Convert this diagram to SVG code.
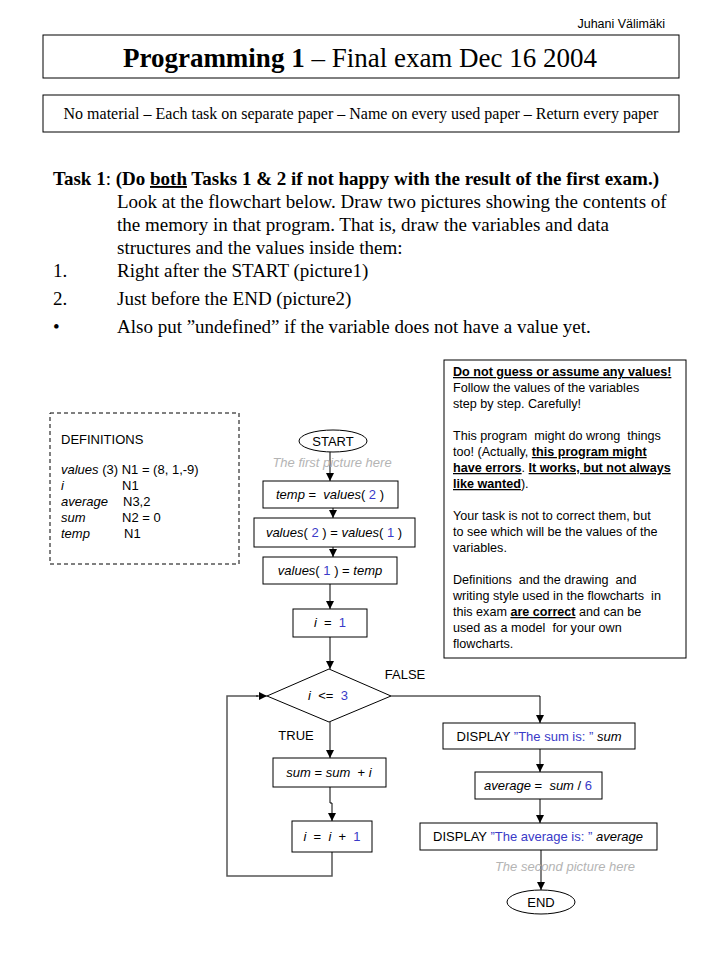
<svg xmlns="http://www.w3.org/2000/svg" width="720" height="960" viewBox="0 0 720 960">
<style>
text{white-space:pre}
.serif{font-family:"Liberation Serif","Times New Roman",serif;fill:#000}
.sans{font-family:"Liberation Sans",Arial,sans-serif;fill:#000}
.box{fill:#fff;stroke:#000;stroke-width:1}
.fc{font-family:"Liberation Sans",Arial,sans-serif;font-size:13px;fill:#000;text-anchor:middle}
.it{font-style:italic}
.num{fill:#3a3ac8}
.gray{font-family:"Liberation Sans",Arial,sans-serif;font-size:13px;font-style:italic;fill:#b4b4b4;text-anchor:middle}
.line{fill:none;stroke:#000;stroke-width:1}
.loop{fill:none;stroke:#555;stroke-width:1.5}
.bu{font-weight:bold;text-decoration:underline}
</style>
<defs>
<marker id="arr" markerWidth="8" markerHeight="8" refX="8" refY="4" orient="auto" markerUnits="userSpaceOnUse">
<path d="M0,0 L8,4 L0,8 z" fill="#000"/>
</marker>
</defs>
<rect width="720" height="960" fill="#fff"/>

<g id="header">
<text class="sans" x="665" y="28" font-size="12.5" text-anchor="end">Juhani Välimäki</text>
<rect class="box" x="43" y="35" width="636" height="43"/>
<text class="serif" x="360" y="67" font-size="27" text-anchor="middle"><tspan font-weight="bold">Programming 1</tspan> – Final exam Dec 16 2004</text>
<rect class="box" x="43" y="95" width="636" height="37"/>
<text class="serif" x="361" y="119" font-size="16" text-anchor="middle">No material – Each task on separate paper – Name on every used paper – Return every paper</text>
</g>

<g id="task" class="serif" font-size="19">
<text x="53" y="185"><tspan font-weight="bold">Task 1</tspan>: <tspan font-weight="bold">(Do <tspan text-decoration="underline">both</tspan> Tasks 1 &amp; 2 if not happy with the result of the first exam.)</tspan></text>
<text x="117" y="208">Look at the flowchart below. Draw two pictures showing the contents of</text>
<text x="117" y="231">the memory in that program. That is, draw the variables and data</text>
<text x="117" y="254">structures and the values inside them:</text>
<text x="53" y="277">1.</text><text x="117" y="277">Right after the START (picture1)</text>
<text x="53" y="305">2.</text><text x="117" y="305">Just before the END (picture2)</text>
<text x="53" y="333">•</text><text x="117" y="333">Also put ”undefined” if the variable does not have a value yet.</text>
</g>

<g id="definitions">
<rect x="50" y="413" width="189" height="151" fill="#fff" stroke="#000" stroke-width="1" stroke-dasharray="4,3"/>
<g class="sans" font-size="13">
<text x="61" y="444">DEFINITIONS</text>
<text x="61" y="474"><tspan class="it">values</tspan> (3) N1 = (8, 1,-9)</text>
<text x="61" y="490" class="it">i</text><text x="122" y="490">N1</text>
<text x="61" y="506" class="it">average</text><text x="123" y="506">N3,2</text>
<text x="61" y="522" class="it">sum</text><text x="122" y="522">N2 = 0</text>
<text x="61" y="538" class="it">temp</text><text x="124" y="538">N1</text>
</g>
</g>

<g id="notes">
<rect class="box" x="444" y="360" width="242" height="298"/>
<g class="sans" font-size="12.6">
<text x="453" y="376"><tspan class="bu">Do not guess or assume any values!</tspan></text>
<text x="453" y="392">Follow the values of the variables</text>
<text x="453" y="408">step by step. Carefully!</text>
<text x="453" y="440">This program  might do wrong  things</text>
<text x="453" y="456">too! (Actually, <tspan class="bu">this program might</tspan></text>
<text x="453" y="472"><tspan class="bu">have errors</tspan>. <tspan class="bu">It works, but not always</tspan></text>
<text x="453" y="488"><tspan class="bu">like wanted</tspan>).</text>
<text x="453" y="520">Your task is not to correct them, but</text>
<text x="453" y="536">to see which will be the values of the</text>
<text x="453" y="552">variables.</text>
<text x="453" y="584">Definitions  and the drawing  and</text>
<text x="453" y="600">writing style used in the flowcharts  in</text>
<text x="453" y="616">this exam <tspan class="bu">are correct</tspan> and can be</text>
<text x="453" y="632">used as a model  for your own</text>
<text x="453" y="648">flowcharts.</text>
</g>
</g>

<g id="connectors">
<line class="line" x1="330" y1="452" x2="330" y2="481" marker-end="url(#arr)"/>
<line class="line" x1="333" y1="508" x2="333" y2="518" marker-end="url(#arr)"/>
<line class="line" x1="333" y1="547" x2="333" y2="557" marker-end="url(#arr)"/>
<line class="line" x1="330" y1="584" x2="330" y2="609" marker-end="url(#arr)"/>
<line class="line" x1="330" y1="637" x2="330" y2="669" marker-end="url(#arr)"/>
<polyline class="line" points="391,696 540,696 540,723" marker-end="url(#arr)"/>
<line class="line" x1="330" y1="722" x2="330" y2="758" marker-end="url(#arr)"/>
<polyline class="line" points="330,787 330,803 332,803 332,821" marker-end="url(#arr)"/>
<polyline class="loop" points="332,852 332,876 227,876 227,696 258,696"/>
<line class="line" x1="256" y1="696" x2="267" y2="696" marker-end="url(#arr)"/>
<line class="line" x1="540" y1="749" x2="540" y2="772" marker-end="url(#arr)"/>
<line class="line" x1="540" y1="799" x2="540" y2="823" marker-end="url(#arr)"/>
<line class="line" x1="541" y1="850" x2="541" y2="890" marker-end="url(#arr)"/>
</g>

<g id="start">
<ellipse class="box" cx="333" cy="441" rx="34" ry="11"/>
<text class="fc" x="333" y="446">START</text>
</g>
<text id="first-picture" class="gray" x="332" y="467">The first picture here</text>

<g id="n-temp">
<rect class="box" x="263" y="481" width="135" height="27"/>
<text class="fc" x="330" y="499"><tspan class="it">temp</tspan> =  <tspan class="it">values</tspan>( <tspan class="num">2</tspan> )</text>
</g>
<g id="n-swap">
<rect class="box" x="254" y="518" width="161" height="29"/>
<text class="fc" x="334" y="537"><tspan class="it">values</tspan>( <tspan class="num">2</tspan> ) = <tspan class="it">values</tspan>( <tspan class="num">1</tspan> )</text>
</g>
<g id="n-values1">
<rect class="box" x="263" y="557" width="134" height="27"/>
<text class="fc" x="330" y="575"><tspan class="it">values</tspan>( <tspan class="num">1</tspan> ) = <tspan class="it">temp</tspan></text>
</g>
<g id="n-i1">
<rect class="box" x="293" y="609" width="74" height="28"/>
<text class="fc" x="330" y="627"><tspan class="it">i</tspan>  =  <tspan class="num">1</tspan></text>
</g>
<g id="n-cond">
<polygon class="box" points="329,669 391,696 329,722 267,696"/>
<text class="fc" x="328" y="700"><tspan class="it">i</tspan>  &lt;=  <tspan class="num">3</tspan></text>
<text class="fc" x="405" y="679">FALSE</text>
<text class="fc" x="296" y="740">TRUE</text>
</g>
<g id="n-sum">
<rect class="box" x="273" y="758" width="113" height="29"/>
<text class="fc" x="329" y="777"><tspan class="it">sum</tspan> = <tspan class="it">sum</tspan>  + <tspan class="it">i</tspan></text>
</g>
<g id="n-inc">
<rect class="box" x="292" y="821" width="80" height="31"/>
<text class="fc" x="332" y="841"><tspan class="it">i</tspan>  =  <tspan class="it">i</tspan>  +  <tspan class="num">1</tspan></text>
</g>
<g id="n-dispsum">
<rect class="box" x="443" y="723" width="192" height="26"/>
<text class="fc" x="539" y="741">DISPLAY <tspan class="num">”The sum is: ”</tspan> <tspan class="it">sum</tspan></text>
</g>
<g id="n-avg">
<rect class="box" x="475" y="772" width="127" height="27"/>
<text class="fc" x="538" y="790"><tspan class="it">average</tspan> =  <tspan class="it">sum</tspan> / <tspan class="num">6</tspan></text>
</g>
<g id="n-dispavg">
<rect class="box" x="420" y="823" width="237" height="27"/>
<text class="fc" x="538" y="841">DISPLAY <tspan class="num">”The average is: ”</tspan> <tspan class="it">average</tspan></text>
</g>
<text id="second-picture" class="gray" x="565" y="871">The second picture here</text>
<g id="end">
<ellipse class="box" cx="541" cy="902" rx="34" ry="12"/>
<text class="fc" x="541" y="907">END</text>
</g>
</svg>
